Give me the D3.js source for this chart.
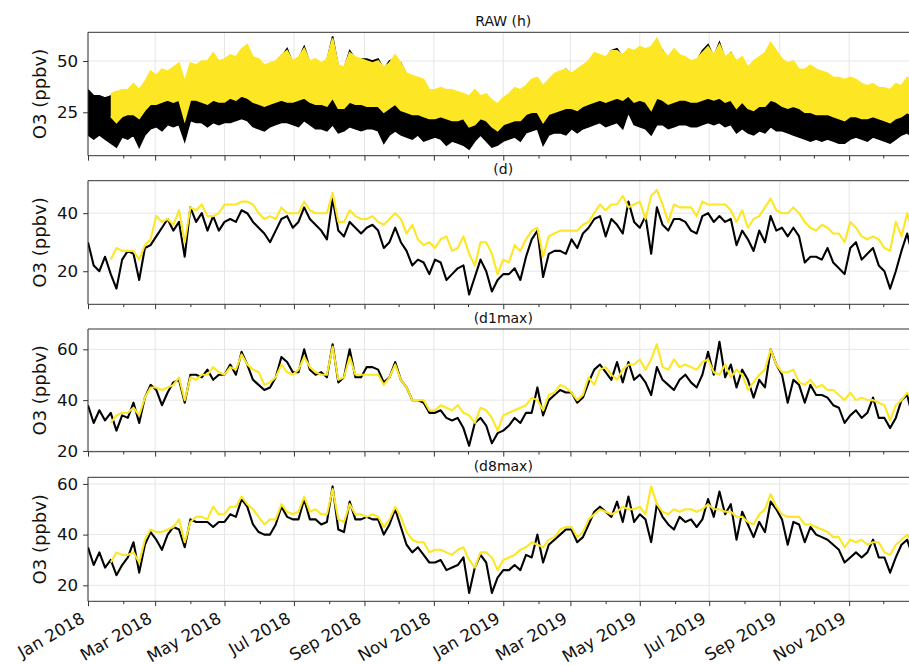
<!DOCTYPE html>
<html>
<head>
<meta charset="utf-8">
<script src="https://cdn.jsdelivr.net/npm/d3@7"></script>
<style>
  body { margin: 0; background: #fff; }
  svg { display: block; font-family: "DejaVu Sans", sans-serif; }
</style>
</head>
<body>
<svg id="chart" width="909" height="665"></svg>
<script>
// Sampling grid: one value every 5 days from 1 Jan 2018 (146 samples).
const START = new Date(Date.UTC(2018, 0, 1));
const STEP_DAYS = 5;
const N = 146;

// Daily mean (d)
const dayBlack = [
  30,22,20,25,19,14,24,27,26,17,
  28,29,32,35,38,34,37,25,42,37,
  40,34,39,34,37,38,37,41,40,37,
  35,33,30,34,38,39,35,37,42,38,
  36,34,31,45,34,32,37,35,33,35,
  36,34,28,30,35,30,27,22,24,23,
  19,24,23,17,19,21,22,12,18,24,
  20,13,17,19,19,21,17,25,31,34,
  18,26,27,27,26,31,28,33,35,38,
  39,32,38,36,33,44,37,35,39,26,
  42,36,34,38,38,37,34,33,39,40,
  37,39,37,38,29,34,31,27,34,30,
  39,34,35,32,35,32,23,25,25,24,
  28,23,21,19,28,30,24,26,28,22,
  20,14,20,27,33,25
];
const dayYellow = [
  null,null,null,null,24,28,27,27,27,24,
  29,31,39,37,38,36,41,30,42,41,
  43,39,39,40,43,43,43,44,44,43,
  40,38,39,38,42,40,40,40,44,41,
  40,40,40,47,37,37,41,39,38,38,
  39,37,36,38,40,38,33,36,31,29,
  30,28,31,32,27,28,32,26,22,30,
  30,26,19,24,23,29,27,31,34,35,
  25,32,33,34,34,34,34,36,37,40,
  43,41,43,43,46,42,43,44,38,46,
  48,43,37,43,42,42,42,39,44,43,
  43,43,43,41,37,41,35,38,39,42,
  45,41,40,40,42,40,37,35,34,36,
  35,33,33,30,37,35,32,31,32,31,
  28,27,37,32,40,34
];

// Daily 1-hour maximum (d1max)
const d1Black = [
  38,31,36,32,35,28,34,33,39,31,
  41,46,44,38,43,47,48,39,50,50,
  49,52,48,50,50,54,50,59,54,48,
  46,44,45,49,57,55,51,51,60,52,
  50,51,49,62,47,49,60,49,49,53,
  53,52,47,49,55,48,45,40,40,39,
  35,35,36,33,32,33,29,22,31,33,
  30,23,27,28,30,33,31,35,35,45,
  34,40,42,44,43,43,39,41,47,52,
  54,51,48,55,47,55,48,50,47,42,
  53,48,46,44,48,50,47,45,50,59,
  50,63,49,54,45,52,48,41,48,45,
  60,54,50,39,48,46,39,46,42,42,
  41,38,37,31,34,36,33,35,41,33,
  33,29,33,40,42,33
];
const d1Yellow = [
  null,null,null,null,31,34,35,35,37,34,
  41,45,45,44,45,46,49,40,49,48,
  50,50,53,51,50,53,52,58,54,52,
  51,46,47,49,54,51,50,52,57,53,
  51,50,50,61,48,49,57,50,50,50,
  50,50,46,49,54,48,45,40,40,40,
  36,36,38,37,36,38,35,34,31,37,
  36,33,28,34,35,36,37,38,41,40,
  36,42,43,46,45,43,40,42,49,46,
  52,53,50,48,52,54,54,56,52,56,
  62,53,52,56,53,54,53,52,55,56,
  51,50,54,49,52,50,44,47,50,52,
  60,54,51,51,52,47,46,48,45,46,
  44,44,42,40,43,40,41,40,40,39,
  38,32,38,40,43,40
];

// Daily maximum 8-hour mean (d8max)
const d8Black = [
  35,28,33,27,30,24,28,31,37,25,
  36,41,38,34,40,43,42,35,46,45,
  45,45,43,45,45,48,47,54,51,44,
  41,40,40,44,51,47,46,46,54,46,
  46,44,45,59,42,41,53,46,46,47,
  46,46,40,44,50,43,36,33,35,32,
  29,29,30,26,27,28,31,17,27,32,
  29,17,23,26,26,28,26,32,31,40,
  29,36,38,40,42,42,37,39,44,49,
  51,49,47,53,45,55,45,48,46,37,
  52,47,44,42,47,45,46,43,46,54,
  47,57,48,52,38,49,44,39,45,41,
  53,50,46,36,45,44,37,43,40,39,
  38,36,34,29,31,33,31,33,38,31,
  31,25,31,36,38,31
];
const d8Yellow = [
  null,null,null,null,29,33,32,32,33,29,
  38,42,41,41,42,43,46,37,45,47,
  47,46,51,48,48,51,51,55,52,50,
  47,44,46,46,52,49,48,49,55,49,
  50,48,48,58,46,45,52,48,48,47,
  48,47,43,46,51,47,41,38,37,37,
  33,34,34,33,32,34,35,30,27,33,
  33,31,26,30,31,32,34,35,37,36,
  35,38,39,42,43,43,39,41,46,48,
  50,49,48,49,51,50,50,51,48,59,
  52,49,48,50,49,50,50,49,50,52,
  50,50,49,49,47,47,45,44,48,50,
  56,51,48,47,47,47,44,44,43,42,
  41,39,39,35,38,37,38,36,37,37,
  33,32,36,38,40,37
];

// Hourly values (RAW), summarised as the low / high envelope in each 5-day window
const rawBlackLo = [
  14,12,14,12,10,8,13,12,14,8,
  14,17,18,16,19,18,19,11,21,20,
  20,18,20,19,20,20,21,22,21,18,
  17,16,18,19,20,20,19,18,21,19,
  17,17,16,19,15,16,18,17,16,17,
  17,16,10,14,16,14,13,12,14,11,
  12,13,12,9,11,10,9,7,11,14,
  11,8,9,11,12,13,11,15,16,17,
  9,14,15,15,14,17,15,17,18,19,
  20,18,19,20,17,25,19,18,17,14,
  19,19,17,18,19,19,18,18,19,20,
  19,20,18,19,15,17,15,14,16,15,
  18,16,16,15,14,13,12,11,12,11,
  12,11,10,10,12,13,12,11,13,12,
  11,10,12,14,15,13
];
const rawBlackHi = [
  36,33,33,32,33,35,34,35,38,34,
  38,43,42,44,44,45,47,38,47,46,
  48,48,52,48,49,51,50,54,56,50,
  50,46,47,48,52,56,49,51,57,49,
  49,48,50,62,47,46,55,51,51,51,
  50,51,46,50,51,49,43,41,41,40,
  35,35,36,35,35,34,33,32,35,32,
  33,30,28,31,33,36,35,37,40,41,
  37,40,43,44,46,43,45,47,49,53,
  52,51,55,56,52,55,54,55,55,56,
  59,55,51,55,52,51,49,50,55,58,
  52,59,51,54,49,51,46,49,51,53,
  58,54,50,48,49,45,45,47,45,44,
  43,41,41,40,41,40,38,37,38,36,
  36,35,38,37,41,39
];
const rawYellowLo = [
  null,null,null,null,23,20,23,24,24,22,
  26,29,29,30,31,30,31,21,31,31,
  30,29,31,30,30,32,31,33,32,30,
  29,28,29,30,31,30,30,31,32,30,
  29,29,28,32,27,27,30,29,29,28,
  28,28,25,27,29,26,25,24,24,23,
  22,22,23,22,21,21,22,18,19,22,
  21,18,16,19,20,21,21,24,25,25,
  20,24,25,26,27,27,26,28,29,30,
  31,30,31,32,31,33,30,31,30,26,
  32,31,29,30,31,31,30,30,31,32,
  31,32,30,31,27,30,27,26,28,28,
  31,30,28,27,28,27,25,25,24,24,
  24,23,22,21,23,23,22,22,23,22,
  21,20,22,23,25,23
];
const rawYellowHi = [
  null,null,null,null,34,35,36,36,39,36,
  40,45,43,46,45,47,49,40,49,48,
  50,50,54,50,51,53,52,56,58,52,
  51,48,49,50,53,55,50,52,56,50,
  51,49,51,61,48,47,54,52,51,50,
  49,50,47,49,53,49,44,43,42,41,
  36,36,37,36,36,35,34,33,36,33,
  34,31,29,32,34,37,36,38,41,42,
  38,41,44,45,46,44,46,48,50,54,
  53,52,55,55,53,56,55,57,56,57,
  61,55,52,56,53,52,50,51,54,57,
  53,58,52,54,50,52,47,50,52,54,
  59,55,51,49,50,46,46,48,46,45,
  44,42,42,41,42,41,39,38,39,37,
  37,36,39,38,42,40
];

const panelTitles = ["RAW (h)", "(d)", "(d1max)", "(d8max)"];
const yTickValues = [[25, 50], [20, 40], [20, 40, 60], [20, 40, 60]];
const yLabel = "O3 (ppbv)";

const COLOR_BLACK = "#000000";
const COLOR_YELLOW = "#fde725";

const dates = d3.range(N).map(i => d3.utcDay.offset(START, i * STEP_DAYS));

const svg = d3.select("#chart");
const left = 88, right = 918.5;
const x = d3.scaleUtc()
  .domain([START, new Date(Date.UTC(2019, 11, 31, 23))])
  .range([left, right]);

const layout = [
  { top: 32.3,  bottom: 155.7, domain: [3.85, 64.0] },
  { top: 180.7, bottom: 304.3, domain: [8.6, 51.2] },
  { top: 329.0, bottom: 451.7, domain: [19.7, 68.0] },
  { top: 477.3, bottom: 601.3, domain: [13.7, 62.6] }
];

const lineSeries = [null, [dayBlack, dayYellow], [d1Black, d1Yellow], [d8Black, d8Yellow]];

const majorTicks = x.ticks(d3.utcMonth.every(2));
const minorTicks = x.ticks(d3.utcMonth.every(1)).filter(t => t.getUTCMonth() % 2 === 1);
const fmt = d3.utcFormat("%b %Y");

layout.forEach((p, k) => {
  const y = d3.scaleLinear().domain(p.domain).range([p.bottom, p.top]);
  const g = svg.append("g");
  const clipId = "clip" + k;
  svg.append("clipPath").attr("id", clipId)
    .append("rect").attr("x", left).attr("y", p.top)
    .attr("width", right - left).attr("height", p.bottom - p.top);

  // grid
  g.append("g").selectAll("line").data(majorTicks).join("line")
    .attr("x1", d => x(d)).attr("x2", d => x(d))
    .attr("y1", p.top).attr("y2", p.bottom)
    .attr("stroke", "#e6e6e6").attr("stroke-width", 1);
  g.append("g").selectAll("line").data(yTickValues[k]).join("line")
    .attr("x1", left).attr("x2", right)
    .attr("y1", d => y(d)).attr("y2", d => y(d))
    .attr("stroke", "#e6e6e6").attr("stroke-width", 1);

  const plot = g.append("g").attr("clip-path", `url(#${clipId})`);

  if (k === 0) {
    const band = (lo, hi) => d3.area()
      .defined((d, i) => lo[i] != null && hi[i] != null)
      .x((d, i) => x(dates[i]))
      .y0((d, i) => y(lo[i]))
      .y1((d, i) => y(hi[i]));
    const edge = arr => d3.line()
      .defined((d, i) => arr[i] != null)
      .x((d, i) => x(dates[i]))
      .y((d, i) => y(arr[i]));
    [[rawBlackLo, rawBlackHi, COLOR_BLACK], [rawYellowLo, rawYellowHi, COLOR_YELLOW]]
      .forEach(([lo, hi, c]) => {
        plot.append("path").attr("d", band(lo, hi)(dates)).attr("fill", c);
        [lo, hi].forEach(arr => plot.append("path").attr("d", edge(arr)(dates))
          .attr("fill", "none").attr("stroke", c).attr("stroke-width", 1.6)
          .attr("stroke-linejoin", "miter"));
      });
  } else {
    const [blk, yel] = lineSeries[k];
    [[blk, COLOR_BLACK], [yel, COLOR_YELLOW]].forEach(([arr, c]) => {
      const line = d3.line()
        .defined((d, i) => arr[i] != null)
        .x((d, i) => x(dates[i]))
        .y((d, i) => y(arr[i]));
      plot.append("path").attr("d", line(dates))
        .attr("fill", "none").attr("stroke", c).attr("stroke-width", 2.1)
        .attr("stroke-linejoin", "round");
    });
  }

  // spines
  const spine = "#333333";
  g.append("line").attr("x1", left).attr("x2", left).attr("y1", p.top).attr("y2", p.bottom)
    .attr("stroke", spine).attr("stroke-width", 1);
  g.append("line").attr("x1", right).attr("x2", right).attr("y1", p.top).attr("y2", p.bottom)
    .attr("stroke", spine).attr("stroke-width", 1);
  g.append("line").attr("x1", left).attr("x2", right).attr("y1", p.top).attr("y2", p.top)
    .attr("stroke", spine).attr("stroke-width", 1);
  g.append("line").attr("x1", left).attr("x2", right).attr("y1", p.bottom).attr("y2", p.bottom)
    .attr("stroke", spine).attr("stroke-width", 1);

  // x ticks
  g.append("g").attr("transform", `translate(0,${p.bottom})`)
    .call(d3.axisBottom(x).tickValues(majorTicks).tickSize(4.9).tickFormat(""))
    .call(a => a.select(".domain").remove())
    .call(a => a.selectAll(".tick line").attr("stroke", spine));
  g.append("g").attr("transform", `translate(0,${p.bottom})`)
    .call(d3.axisBottom(x).tickValues(minorTicks).tickSize(2.8).tickFormat(""))
    .call(a => a.select(".domain").remove())
    .call(a => a.selectAll(".tick line").attr("stroke", spine));

  // y ticks
  g.append("g").attr("transform", `translate(${left},0)`)
    .call(d3.axisLeft(y).tickValues(yTickValues[k]).tickSize(4.9).tickPadding(4.9))
    .call(a => a.select(".domain").remove())
    .call(a => a.selectAll(".tick line").attr("stroke", spine))
    .call(a => a.selectAll(".tick text")
      .attr("font-size", 16.7).attr("fill", "#111")
      .attr("font-family", "DejaVu Sans, sans-serif"));

  // y label
  svg.append("text")
    .attr("transform", `translate(46,${(p.top + p.bottom) / 2}) rotate(-90)`)
    .attr("text-anchor", "middle")
    .attr("font-size", 18).attr("fill", "#111")
    .text(yLabel);

  // title
  svg.append("text")
    .attr("x", (left + right) / 2).attr("y", p.top - 6.5)
    .attr("text-anchor", "middle")
    .attr("font-size", 14).attr("fill", "#111")
    .text(panelTitles[k]);

  // date labels on the bottom panel
  if (k === layout.length - 1) {
    svg.append("g").selectAll("text").data(majorTicks).join("text")
      .attr("transform", d => `translate(${x(d) - 2},${p.bottom + 20.3}) rotate(-30)`)
      .attr("text-anchor", "end")
      .attr("font-size", 16.7).attr("fill", "#111")
      .text(d => fmt(d));
  }
});
</script>
</body>
</html>
